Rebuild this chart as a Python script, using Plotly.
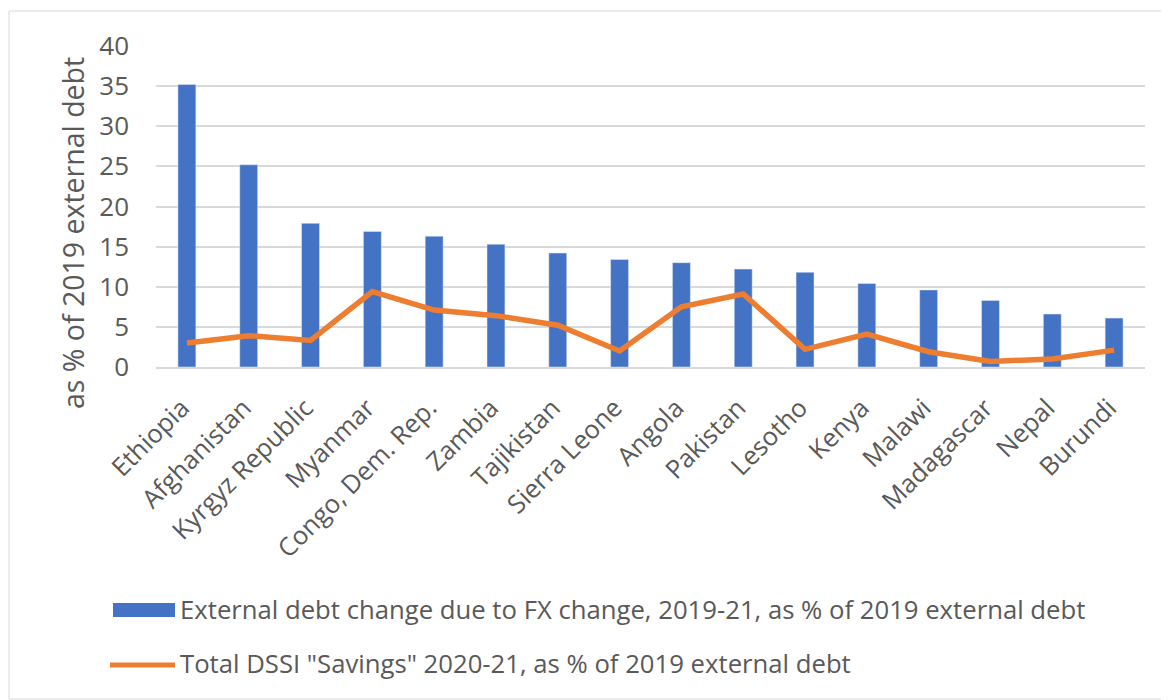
import plotly.graph_objects as go

countries = ["Ethiopia", "Afghanistan", "Kyrgyz Republic", "Myanmar", "Congo, Dem. Rep.",
             "Zambia", "Tajikistan", "Sierra Leone", "Angola", "Pakistan", "Lesotho",
             "Kenya", "Malawi", "Madagascar", "Nepal", "Burundi"]
fx_change = [35.2, 25.2, 17.9, 16.9, 16.3, 15.3, 14.2, 13.4, 13.0, 12.2, 11.8,
             10.4, 9.6, 8.3, 6.6, 6.1]
dssi_savings = [3.0, 3.9, 3.3, 9.4, 7.1, 6.4, 5.2, 2.0, 7.5, 9.1, 2.2,
                4.1, 1.9, 0.7, 1.0, 2.1]
y_ticks = [0, 5, 10, 15, 20, 25, 30, 35, 40]

bar_name = "External debt change due to FX change, 2019-21, as % of 2019 external debt"
line_name = 'Total DSSI "Savings" 2020-21, as % of 2019 external debt'
y_title = "as % of 2019 external debt"

BLUE = "#4472C4"
ORANGE = "#ED7D31"
GRAY = "#595959"
FONT = "Open Sans"

OFF = 8  # page body margin
PAGE_W, PAGE_H = 1169, 700
W, H = PAGE_W - OFF, PAGE_H - OFF
# plot area in page pixels
PL, PR, PT, PB = 156, 1145, 46, 367
L, R, T, B = PL - OFF, W - (PR - OFF), PT - OFF, H - (PB - OFF)
pw, ph = PR - PL, PB - PT


def px_x(px):
    return (px - PL) / pw


def px_y(py):
    return (PB - py) / ph


fig = go.Figure()
fig.add_trace(go.Bar(x=countries, y=fx_change, name=bar_name, marker_color=BLUE,
                     width=0.29, showlegend=False))
fig.add_trace(go.Scatter(x=countries, y=dssi_savings, name=line_name, mode="lines",
                         line=dict(color=ORANGE, width=5.5), showlegend=False))

# legend keys (custom, to mimic long swatches)
fig.add_shape(type="rect", xref="paper", yref="paper",
              x0=px_x(113), x1=px_x(175), y0=px_y(617), y1=px_y(603),
              fillcolor=BLUE, line=dict(width=0))
fig.add_shape(type="line", xref="paper", yref="paper",
              x0=px_x(110), x1=px_x(175), y0=px_y(665), y1=px_y(665),
              line=dict(color=ORANGE, width=5))
fig.add_annotation(text=bar_name, xref="paper", yref="paper", x=px_x(178), y=px_y(609),
                   xanchor="left", yanchor="middle", showarrow=False,
                   font=dict(family=FONT, size=25.7, color=GRAY))
fig.add_annotation(text=line_name, xref="paper", yref="paper", x=px_x(178), y=px_y(663),
                   xanchor="left", yanchor="middle", showarrow=False,
                   font=dict(family=FONT, size=25.7, color=GRAY))
# y-axis title
fig.add_annotation(text=y_title, xref="paper", yref="paper", x=px_x(73), y=px_y(233),
                   xanchor="center", yanchor="middle", textangle=-90, showarrow=False,
                   font=dict(family=FONT, size=28.5, color=GRAY))
# chart border
fig.add_shape(type="rect", xref="paper", yref="paper",
              x0=px_x(9), x1=px_x(1166), y0=px_y(699), y1=px_y(11),
              line=dict(color="#D9D9D9", width=1), fillcolor="rgba(0,0,0,0)", layer="below")

fig.update_layout(
    width=W, height=H, autosize=False,
    margin=dict(l=L, r=R, t=T, b=B),
    paper_bgcolor="white", plot_bgcolor="white",
    font=dict(family=FONT, color=GRAY),
    bargap=0.71,
    xaxis=dict(tickangle=-45, tickfont=dict(size=25.5, color=GRAY), showgrid=False,
               showline=True, linecolor="#D9D9D9", linewidth=1.5,
               ticks="", ticklabelstandoff=14, ticklabelshift=-5,
               range=[-0.5, len(countries) - 0.5]),
    yaxis=dict(range=[0, 40], tickvals=y_ticks, tickfont=dict(size=26, color=GRAY),
               showgrid=True, gridcolor="#D9D9D9", gridwidth=1.5, zeroline=False,
               ticks="", ticklabelstandoff=26),
)

fig.write_html("out.html")
